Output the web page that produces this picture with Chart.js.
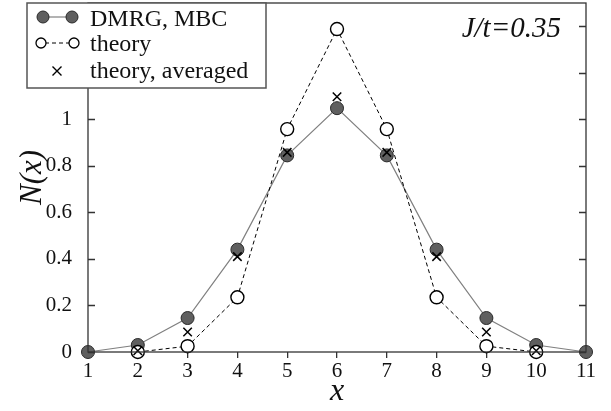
<!DOCTYPE html>
<html>
<head>
<meta charset="utf-8">
<script src="https://cdn.jsdelivr.net/npm/chart.js@4.4.0/dist/chart.umd.min.js"></script>
<style>
  html, body { margin: 0; padding: 0; background: #fff; }
  #wrap { width: 611px; height: 411px; }
</style>
</head>
<body>
<div id="wrap"><canvas id="profile" width="611" height="411"></canvas></div>
<script>
// site positions and occupations
const sitesAll = [1, 2, 3, 4, 5, 6, 7, 8, 9, 10, 11];
const sitesInner = [2, 3, 4, 5, 6, 7, 8, 9, 10];
const dmrgValues = [0, 0.03, 0.146, 0.44, 0.845, 1.048, 0.845, 0.44, 0.146, 0.03, 0];
const theoryValues = [0, 0.025, 0.235, 0.958, 1.388, 0.958, 0.235, 0.025, 0];
const averagedValues = [0.005, 0.086, 0.41, 0.858, 1.097, 0.858, 0.41, 0.086, 0.005];
const xTicks = [1, 2, 3, 4, 5, 6, 7, 8, 9, 10, 11];
const yLabels = [0, 0.2, 0.4, 0.6, 0.8, 1, 1.2, 1.4];

const serif = '"Liberation Serif", "DejaVu Serif", serif';
const pairs = (xs, ys) => xs.map((x, i) => ({ x: x, y: ys[i] }));

// inward tick marks on both vertical axes, box frame, legend and J/t note
const framePlugin = {
    id: 'frame',
    afterDatasetsDraw(chart) {
        const { ctx, chartArea: a, scales } = chart;
        ctx.save();
        ctx.strokeStyle = '#333';
        ctx.lineWidth = 1.3;
        scales.y.ticks.forEach(t => {
            const py = Math.round(scales.y.getPixelForValue(t.value)) + 0.5;
            ctx.beginPath();
            ctx.moveTo(a.left, py); ctx.lineTo(a.left + 7, py);
            ctx.moveTo(a.right, py); ctx.lineTo(a.right - 7, py);
            ctx.stroke();
        });
        ctx.strokeRect(a.left, a.top, a.right - a.left, a.bottom - a.top);

        // legend box
        ctx.fillStyle = '#fff';
        ctx.fillRect(27, 3, 239, 85);
        ctx.strokeStyle = '#555';
        ctx.lineWidth = 1.5;
        ctx.strokeRect(27, 3, 239, 85);

        // row 1: DMRG
        ctx.strokeStyle = '#808080';
        ctx.lineWidth = 1.2;
        ctx.beginPath(); ctx.moveTo(43, 17); ctx.lineTo(72, 17); ctx.stroke();
        ctx.fillStyle = '#5f5f5f';
        ctx.strokeStyle = '#2a2a2a';
        ctx.lineWidth = 1;
        [43, 72].forEach(cx => {
            ctx.beginPath(); ctx.arc(cx, 17, 6, 0, Math.PI * 2); ctx.fill(); ctx.stroke();
        });
        // row 2: theory
        ctx.strokeStyle = '#000';
        ctx.setLineDash([4, 3]);
        ctx.beginPath(); ctx.moveTo(45, 43); ctx.lineTo(70, 43); ctx.stroke();
        ctx.setLineDash([]);
        ctx.fillStyle = '#fff';
        ctx.lineWidth = 1.3;
        [41, 74].forEach(cx => {
            ctx.beginPath(); ctx.arc(cx, 43, 5, 0, Math.PI * 2); ctx.fill(); ctx.stroke();
        });
        // row 3: averaged
        ctx.lineWidth = 1.4;
        ctx.beginPath();
        ctx.moveTo(52.5, 66.5); ctx.lineTo(61.5, 75.5);
        ctx.moveTo(61.5, 66.5); ctx.lineTo(52.5, 75.5);
        ctx.stroke();

        ctx.fillStyle = '#111';
        ctx.font = '24px ' + serif;
        ctx.textBaseline = 'alphabetic';
        ctx.textAlign = 'left';
        ctx.fillText('DMRG, MBC', 90, 26);
        ctx.fillText('theory', 90, 51);
        ctx.fillText('theory, averaged', 90, 78);

        ctx.font = 'italic 29px ' + serif;
        ctx.textAlign = 'right';
        ctx.fillText('J/t=0.35', 561, 37);
        ctx.restore();
    }
};

const config = {
    type: 'scatter',
    data: {
        datasets: [{
            label: 'DMRG, MBC',
            data: pairs(sitesAll, dmrgValues),
            showLine: true,
            borderColor: '#808080',
            borderWidth: 1.2,
            pointRadius: 6.5,
            pointBackgroundColor: '#5f5f5f',
            pointBorderColor: '#2a2a2a',
            pointBorderWidth: 1,
            clip: false,
            order: 3
        }, {
            label: 'theory',
            data: pairs(sitesInner, theoryValues),
            showLine: true,
            borderColor: '#000',
            borderWidth: 1,
            borderDash: [4, 3],
            pointRadius: 6.5,
            pointBackgroundColor: '#fff',
            pointBorderColor: '#000',
            pointBorderWidth: 1.4,
            clip: false,
            order: 2
        }, {
            label: 'theory, averaged',
            data: pairs(sitesInner, averagedValues),
            showLine: false,
            pointStyle: 'crossRot',
            pointRadius: 6,
            pointBorderColor: '#000',
            pointBorderWidth: 1.5,
            clip: false,
            order: 1
        }]
    },
    options: {
        responsive: false,
        animation: false,
        layout: { autoPadding: false, padding: { left: 0, right: 25, top: 3, bottom: 0 } },
        plugins: {
            legend: { display: false },
            tooltip: { enabled: false }
        },
        scales: {
            x: {
                type: 'linear',
                min: 1,
                max: 11,
                afterFit: s => { s.height = 59; },
                afterBuildTicks: s => { s.ticks = xTicks.map(v => ({ value: v })); },
                grid: {
                    drawOnChartArea: false,
                    drawTicks: true,
                    tickLength: 6,
                    color: '#333',
                    lineWidth: 1.3
                },
                border: { display: false },
                ticks: {
                    color: '#111',
                    padding: 1,
                    font: { family: serif, size: 21 },
                    maxRotation: 0,
                    autoSkip: false
                },
                title: {
                    display: true,
                    text: 'x',
                    color: '#111',
                    padding: { top: 2, bottom: 0 },
                    font: { family: serif, size: 32, style: 'italic' }
                }
            },
            y: {
                min: 0,
                max: 1.5,
                afterFit: s => {
                    s.width = 88;
                    s.paddingTop = 0;
                    s.paddingBottom = 0;
                },
                afterBuildTicks: s => {
                    const t = [];
                    for (let i = 0; i <= 15; i++) t.push({ value: i / 10 });
                    s.ticks = t;
                },
                grid: { display: false },
                border: { display: false },
                ticks: {
                    color: '#111',
                    padding: 8,
                    font: { family: serif, size: 21 },
                    callback: v => {
                        const r = Math.round(v * 10) / 10;
                        return yLabels.some(l => Math.abs(l - r) < 1e-6) ? String(r) : '';
                    }
                },
                title: {
                    display: true,
                    text: 'N(x)',
                    color: '#111',
                    padding: { top: 14, bottom: 0 },
                    font: { family: serif, size: 31, style: 'italic' }
                }
            }
        }
    },
    plugins: [framePlugin]
};

new Chart(document.getElementById('profile').getContext('2d'), config);
</script>
</body>
</html>
